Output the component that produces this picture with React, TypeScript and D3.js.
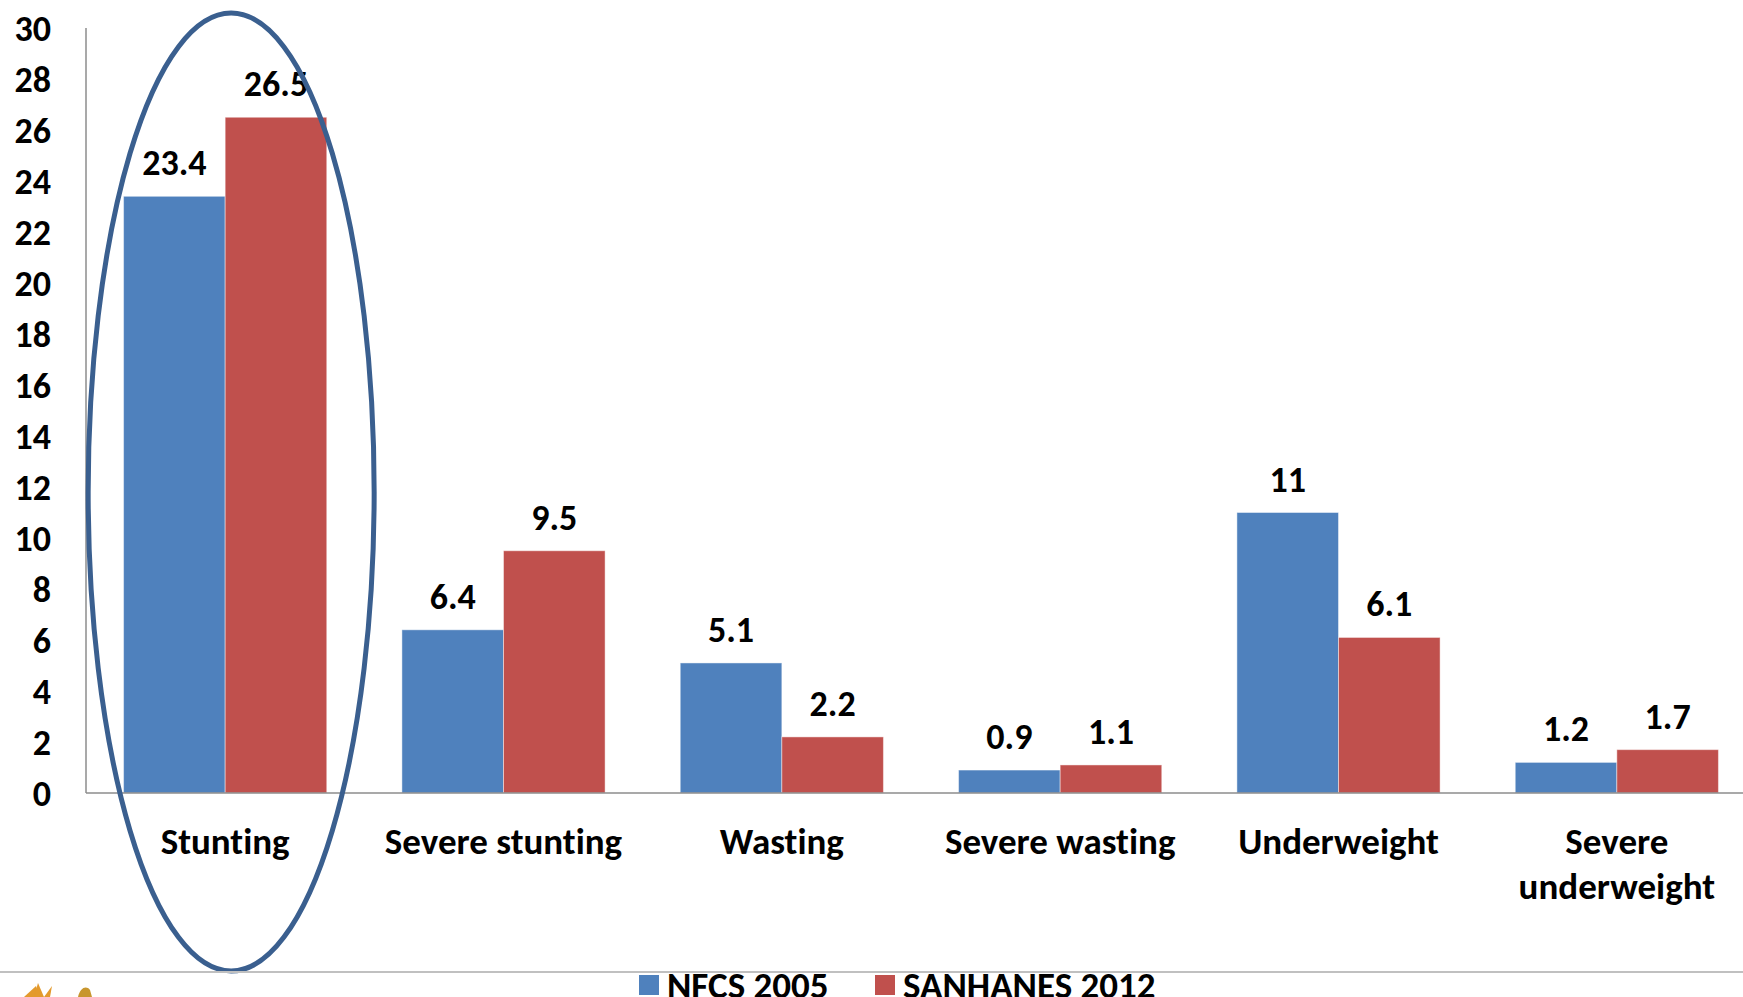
import React, { useEffect, useRef } from 'react';
import { select, scaleBand, scaleLinear, range } from 'd3';

const WIDTH = 1743;
const HEIGHT = 997;

const categories = [
  'Stunting',
  'Severe stunting',
  'Wasting',
  'Severe wasting',
  'Underweight',
  'Severe underweight',
];
// label lines as they wrap under the axis
const categoryLines = [
  ['Stunting'],
  ['Severe stunting'],
  ['Wasting'],
  ['Severe wasting'],
  ['Underweight'],
  ['Severe', 'underweight'],
];
const seriesNames = ['NFCS 2005', 'SANHANES 2012'];
const nfcs2005 = [23.4, 6.4, 5.1, 0.9, 11, 1.2];
const sanhanes2012 = [26.5, 9.5, 2.2, 1.1, 6.1, 1.7];
const yTicks = [0, 2, 4, 6, 8, 10, 12, 14, 16, 18, 20, 22, 24, 26, 28, 30];

const COLORS = ['#4F81BD', '#C0504D'];
const FONT = 'Carlito, Calibri, Lato, sans-serif';
const MARGIN = { TOP: 28, LEFT: 86, BOTTOM: 793 };

export default function App(): JSX.Element {
  const svgRef = useRef<SVGSVGElement>(null);

  useEffect(() => {
    const svg = select(svgRef.current);
    svg.selectAll('*').remove();
    svg.style('font-variant-ligatures', 'none');

    // plot is wider than the picture, it got cropped on the right
    const x = scaleBand<string>()
      .domain(categories)
      .range([MARGIN.LEFT, 1756])
      .paddingInner(0.27)
      .paddingOuter(0.135);
    const x1 = scaleBand<number>().domain([0, 1]).range([0, x.bandwidth()]);
    const y = scaleLinear().domain([0, 30]).range([MARGIN.BOTTOM, MARGIN.TOP]);

    // y tick labels
    svg
      .append('g')
      .selectAll('text')
      .data(yTicks)
      .join('text')
      .attr('x', 51)
      .attr('y', (d) => y(d))
      .attr('dy', '0.36em')
      .attr('text-anchor', 'end')
      .attr('font-family', FONT)
      .attr('font-weight', 700)
      .attr('font-size', 36)
      .text((d) => d);

    const series = [nfcs2005, sanhanes2012];

    // bars
    series.forEach((vals, si) => {
      const g = svg.append('g');
      g.selectAll('rect')
        .data(vals)
        .join('rect')
        .attr('x', (_, i) => (x(categories[i]) as number) + (x1(si) as number))
        .attr('y', (d) => y(d))
        .attr('width', x1.bandwidth())
        .attr('height', (d) => MARGIN.BOTTOM - y(d))
        .attr('fill', COLORS[si])
        .attr('stroke', 'rgba(255,255,255,0.45)')
        .attr('stroke-width', 1);

      g.selectAll('text')
        .data(vals)
        .join('text')
        .attr(
          'x',
          (_, i) =>
            (x(categories[i]) as number) + (x1(si) as number) + x1.bandwidth() / 2,
        )
        .attr('y', (d) => y(d) - 21)
        .attr('text-anchor', 'middle')
        .attr('font-family', FONT)
        .attr('font-weight', 700)
        .attr('font-size', 36)
        .text((d) => String(d));
    });

    // axes lines
    svg
      .append('line')
      .attr('x1', MARGIN.LEFT)
      .attr('x2', MARGIN.LEFT)
      .attr('y1', MARGIN.TOP)
      .attr('y2', MARGIN.BOTTOM)
      .attr('stroke', '#8c8c8c')
      .attr('stroke-width', 1.5);
    svg
      .append('line')
      .attr('x1', MARGIN.LEFT)
      .attr('x2', WIDTH)
      .attr('y1', MARGIN.BOTTOM)
      .attr('y2', MARGIN.BOTTOM)
      .attr('stroke', '#8c8c8c')
      .attr('stroke-width', 1.5);

    // category labels
    const catG = svg.append('g');
    categories.forEach((c, i) => {
      const t = catG
        .append('text')
        .attr('text-anchor', 'middle')
        .attr('font-family', FONT)
        .attr('font-weight', 700)
        .attr('font-size', 37);
      categoryLines[i].forEach((line, li) => {
        t.append('tspan')
          .attr('x', (x(c) as number) + x.bandwidth() / 2)
          .attr('y', 854 + li * 45)
          .text(line);
      });
    });

    // highlight ellipse round Stunting
    svg
      .append('ellipse')
      .attr('cx', (x(categories[0]) as number) + x.bandwidth() / 2 + 6)
      .attr('cy', 492)
      .attr('rx', 143)
      .attr('ry', 479)
      .attr('fill', 'none')
      .attr('stroke', '#3A5F8F')
      .attr('stroke-width', 5);

    // slide rule at the bottom
    svg
      .append('line')
      .attr('x1', 0)
      .attr('x2', WIDTH)
      .attr('y1', 972)
      .attr('y2', 972)
      .attr('stroke', '#c0c0c0')
      .attr('stroke-width', 2);

    // legend (cut off by the bottom edge, as in the slide)
    const legendX = [639, 875];
    const legend = svg
      .append('g')
      .selectAll('g')
      .data(range(seriesNames.length))
      .join('g');
    legend
      .append('rect')
      .attr('x', (d) => legendX[d])
      .attr('y', 975)
      .attr('width', 20)
      .attr('height', 20)
      .attr('fill', (d) => COLORS[d]);
    legend
      .append('text')
      .attr('x', (d) => legendX[d] + 28)
      .attr('y', 998)
      .attr('font-family', FONT)
      .attr('font-weight', 700)
      .attr('font-size', 37)
      .text((d) => seriesNames[d]);

    // bits of the logo peeking in at bottom left
    const logo = svg.append('g').attr('fill', '#E39A2D');
    logo.append('path').attr('d', 'M24,997 L36,986 L40,997 Z');
    logo.append('path').attr('d', 'M34,997 L38,983 L44,997 Z');
    logo.append('path').attr('d', 'M44,997 L52,986 L50,997 Z');
    logo.append('path').attr('d', 'M78,997 C80,988 86,985 90,990 L92,997 Z').attr('fill', '#C8962E');
  }, []);

  return (
    <svg
      ref={svgRef}
      width={WIDTH}
      height={HEIGHT}
      style={{ position: 'absolute', left: 0, top: 0, background: '#fff' }}
    />
  );
}
